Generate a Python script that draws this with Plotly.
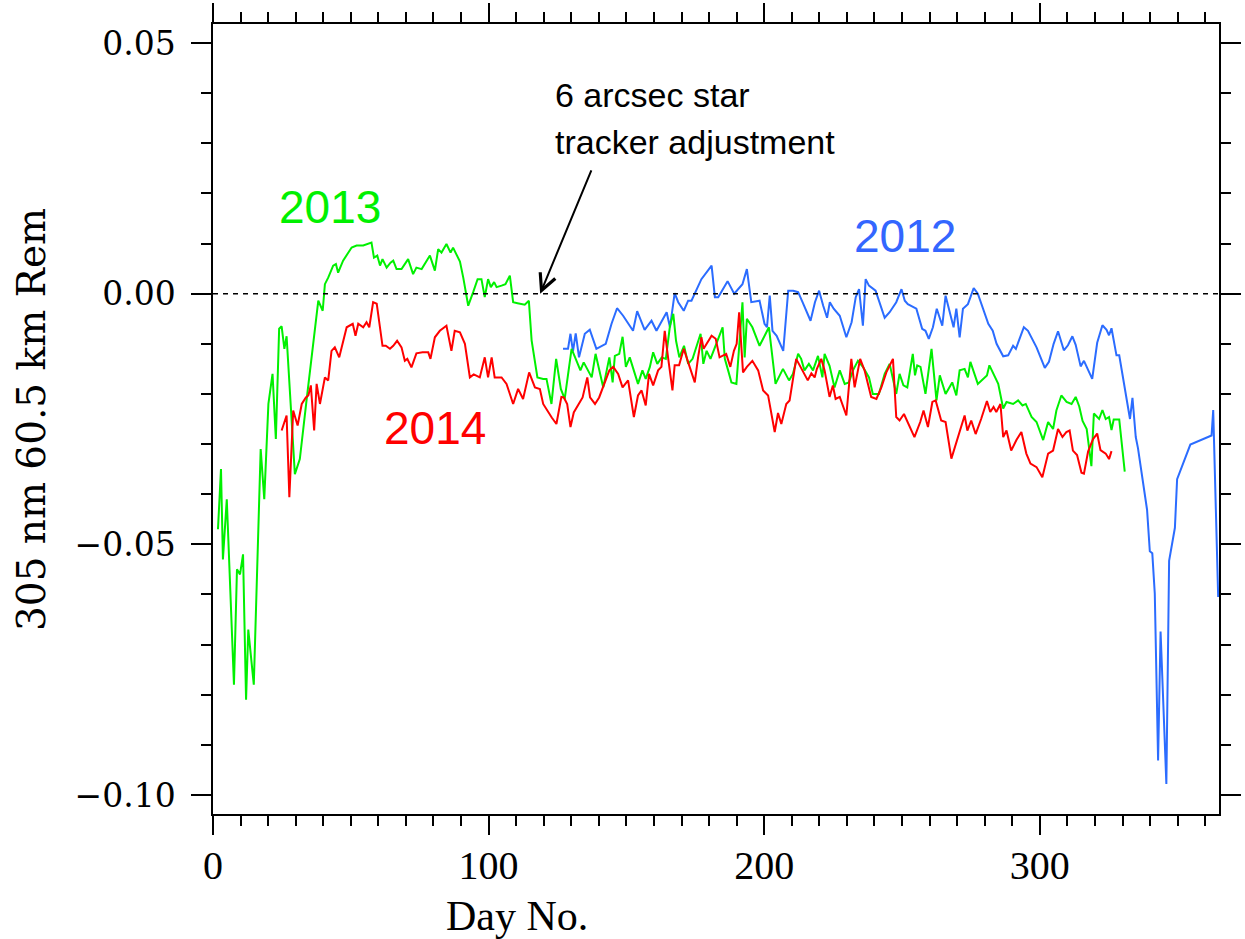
import plotly.graph_objects as go

# 305 nm radiance residuals at 60.5 km, by day of year
day_2012 = [127.0, 128.8, 129.7, 130.6, 131.6, 132.8, 134.9, 136.7, 139.1, 142.5, 144.6, 146.6,
            148.8, 152.4, 153.9, 156.6, 159.1, 160.9, 164.6, 165.8, 167.5, 168.8, 170.8, 172.4,
            173.6, 177.2, 180.9, 182.1, 183.3, 186.7, 189.1, 192.1, 193.7, 195.3, 198.3, 200.1,
            201.0, 202.0, 203.0, 204.5, 206.9, 208.7, 210.5, 212.3, 213.9, 216.8, 218.4, 219.9,
            221.4, 222.8, 223.8, 225.2, 227.4, 229.8, 231.7, 233.2, 234.4, 235.8, 236.8, 238.0,
            240.4, 241.6, 243.7, 245.5, 247.9, 249.8, 251.0, 252.1, 255.2, 257.3, 258.5, 259.7,
            261.2, 262.6, 264.6, 265.8, 267.3, 268.7, 269.7, 270.9, 272.1, 273.9, 276.0, 277.5,
            281.3, 282.9, 284.3, 286.7, 288.5, 290.3, 291.3, 294.2, 295.7, 298.8, 301.8, 303.3,
            305.0, 306.6, 308.7, 310.2, 311.8, 313.0, 314.8, 316.0, 317.5, 319.0, 320.8, 322.7,
            324.2, 325.1, 326.0, 327.8, 328.8, 332.7, 333.6, 334.8, 335.6, 338.9, 339.9, 340.8,
            341.7, 342.9, 343.8, 345.9, 346.9, 349.0, 349.8, 354.6, 362.3, 362.9, 364.7]
rem_2012 = [-0.0110, -0.0110, -0.0080, -0.0115, -0.0079, -0.0127, -0.0080, -0.0072, -0.0110,
            -0.0100, -0.0060, -0.0029, -0.0044, -0.0074, -0.0035, -0.0072, -0.0054, -0.0074,
            -0.0037, -0.0067, 0.0001, -0.0017, -0.0034, -0.0014, -0.0014, 0.0029, 0.0056,
            -0.0007, -0.0007, 0.0025, 0.0000, 0.0019, 0.0049, -0.0017, -0.0014, -0.0060,
            -0.0067, -0.0004, -0.0074, -0.0084, -0.0114, 0.0006, 0.0006, 0.0003, -0.0017,
            -0.0054, -0.0017, 0.0006, -0.0024, -0.0048, -0.0017, -0.0030, -0.0044, -0.0087,
            -0.0057, -0.0007, 0.0009, -0.0064, 0.0029, 0.0016, 0.0006, -0.0014, -0.0048,
            -0.0037, -0.0017, 0.0009, -0.0014, -0.0021, -0.0030, -0.0070, -0.0074, -0.0090,
            -0.0067, -0.0030, -0.0064, -0.0004, -0.0034, -0.0067, -0.0030, -0.0087, -0.0030,
            -0.0021, 0.0011, 0.0000, -0.0060, -0.0074, -0.0100, -0.0125, -0.0123, -0.0104,
            -0.0110, -0.0067, -0.0074, -0.0107, -0.0148, -0.0136, -0.0100, -0.0075, -0.0113,
            -0.0103, -0.0085, -0.0102, -0.0145, -0.0134, -0.0152, -0.0170, -0.0098, -0.0063,
            -0.0072, -0.0083, -0.0069, -0.0123, -0.0123, -0.0250, -0.0208, -0.0286, -0.0308,
            -0.0431, -0.0514, -0.0518, -0.0598, -0.0931, -0.0674, -0.0978, -0.0533, -0.0467,
            -0.0370, -0.0301, -0.0283, -0.0232, -0.0605]

day_2013 = [1.8, 2.9, 3.6, 5.0, 7.6, 8.7, 9.8, 10.9, 12.0, 12.8, 14.8, 17.3, 18.6, 20.1, 21.6,
            22.8, 24.0, 24.9, 25.9, 26.7, 29.7, 31.5, 34.0, 36.2, 38.2, 39.8, 40.6, 41.8, 43.6,
            44.6, 45.4, 47.2, 50.3, 52.1, 54.5, 57.5, 58.4, 59.6, 60.6, 61.5, 63.0, 64.4, 65.4,
            66.6, 68.4, 70.8, 72.6, 73.8, 75.7, 78.7, 80.5, 81.7, 82.9, 84.7, 86.2, 87.1, 89.6,
            90.8, 92.6, 94.4, 96.0, 97.4, 98.6, 99.8, 100.8, 102.0, 102.9, 104.7, 106.1, 107.7,
            108.9, 110.5, 113.1, 114.6, 115.6, 117.7, 119.8, 121.0, 122.8, 124.5, 126.2, 127.6,
            130.1, 131.6, 133.3, 134.5, 137.4, 138.8, 140.1, 141.6, 143.8, 145.0, 145.8, 147.4,
            148.6, 149.8, 151.2, 152.7, 154.2, 155.8, 157.0, 158.5, 159.7, 161.2, 162.8, 164.3,
            165.8, 167.0, 168.0, 169.2, 170.9, 172.4, 174.0, 176.9, 177.9, 179.1, 180.5, 184.9,
            185.7, 186.9, 188.1, 189.9, 192.1, 192.9, 193.7, 195.7, 198.3, 201.7, 204.1, 206.8,
            209.0, 210.4, 212.3, 213.4, 214.6, 216.2, 217.7, 219.5, 221.1, 221.9, 223.7, 225.5,
            227.4, 229.2, 230.7, 232.2, 234.0, 235.8, 238.0, 239.4, 241.6, 243.7, 245.5, 247.9,
            249.1, 250.5, 251.9, 253.9, 254.7, 255.5, 256.7, 258.5, 260.7, 262.5, 263.7, 265.8,
            268.2, 269.7, 270.9, 272.7, 273.9, 274.8, 277.5, 280.8, 281.7, 284.9, 286.7, 287.9,
            290.3, 292.1, 293.7, 294.9, 297.0, 298.8, 301.2, 303.0, 304.8, 306.0, 307.8, 309.7,
            311.5, 313.0, 314.3, 315.5, 317.0, 318.7, 319.6, 321.5, 322.7, 323.9, 325.1, 326.0,
            326.8, 328.8, 330.8]
rem_2013 = [-0.0470, -0.0350, -0.0530, -0.0410, -0.0780, -0.0550, -0.0560, -0.0520, -0.0810,
            -0.0670, -0.0780, -0.0310, -0.0410, -0.0220, -0.0160, -0.0290, -0.0070, -0.0065,
            -0.0110, -0.0085, -0.0360, -0.0330, -0.0210, -0.0110, -0.0014, -0.0034, 0.0019,
            0.0032, 0.0056, 0.0059, 0.0042, 0.0066, 0.0092, 0.0096, 0.0096, 0.0102, 0.0072,
            0.0076, 0.0056, 0.0069, 0.0052, 0.0062, 0.0066, 0.0049, 0.0049, 0.0069, 0.0039,
            0.0052, 0.0049, 0.0076, 0.0046, 0.0089, 0.0082, 0.0099, 0.0082, 0.0092, 0.0064,
            0.0032, -0.0024, 0.0003, 0.0029, 0.0029, -0.0007, 0.0029, 0.0013, 0.0023, 0.0013,
            0.0016, 0.0019, 0.0036, -0.0017, -0.0019, -0.0022, -0.0014, -0.0093, -0.0167,
            -0.0170, -0.0170, -0.0220, -0.0130, -0.0190, -0.0210, -0.0110, -0.0130, -0.0153,
            -0.0137, -0.0167, -0.0120, -0.0153, -0.0187, -0.0127, -0.0177, -0.0124, -0.0120,
            -0.0086, -0.0146, -0.0127, -0.0153, -0.0180, -0.0153, -0.0170, -0.0146, -0.0117,
            -0.0140, -0.0127, -0.0130, -0.0064, -0.0040, -0.0094, -0.0127, -0.0104, -0.0140,
            -0.0130, -0.0080, -0.0140, -0.0114, -0.0130, -0.0067, -0.0130, -0.0153, -0.0177,
            -0.0180, -0.0017, -0.0127, -0.0050, -0.0067, -0.0104, -0.0067, -0.0180, -0.0150,
            -0.0173, -0.0160, -0.0120, -0.0130, -0.0153, -0.0140, -0.0153, -0.0124, -0.0167,
            -0.0120, -0.0144, -0.0187, -0.0153, -0.0180, -0.0177, -0.0153, -0.0134, -0.0146,
            -0.0167, -0.0200, -0.0200, -0.0160, -0.0140, -0.0200, -0.0160, -0.0183, -0.0187,
            -0.0120, -0.0163, -0.0143, -0.0146, -0.0200, -0.0110, -0.0213, -0.0163, -0.0200,
            -0.0177, -0.0203, -0.0153, -0.0150, -0.0167, -0.0136, -0.0180, -0.0163, -0.0143,
            -0.0180, -0.0229, -0.0216, -0.0220, -0.0213, -0.0223, -0.0220, -0.0246, -0.0256,
            -0.0292, -0.0256, -0.0270, -0.0233, -0.0203, -0.0216, -0.0220, -0.0206, -0.0225,
            -0.0254, -0.0270, -0.0344, -0.0239, -0.0250, -0.0232, -0.0250, -0.0246, -0.0272,
            -0.0251, -0.0251, -0.0355]

day_2014 = [24.9, 26.7, 27.7, 29.1, 30.7, 32.2, 33.7, 34.6, 35.5, 36.7, 37.6, 38.8, 40.6, 41.8,
            43.0, 44.2, 45.8, 48.5, 50.7, 51.7, 52.7, 54.5, 55.7, 56.7, 58.1, 59.4, 61.5, 62.7,
            64.2, 65.4, 66.8, 68.4, 69.6, 70.5, 72.0, 73.8, 76.0, 78.1, 78.9, 80.5, 82.3, 84.7,
            86.5, 87.7, 89.6, 91.4, 93.2, 94.6, 96.8, 98.6, 99.8, 101.1, 102.2, 104.7, 106.5,
            108.9, 110.7, 112.5, 114.7, 116.8, 118.6, 119.8, 122.9, 124.6, 126.4, 127.3, 128.5,
            129.7, 130.9, 132.5, 134.1, 135.8, 136.8, 138.6, 140.1, 143.8, 145.2, 147.0, 148.6,
            150.6, 151.8, 152.7, 154.2, 155.5, 157.0, 158.2, 159.7, 161.5, 162.7, 163.9, 165.1,
            166.7, 167.5, 169.1, 170.8, 173.3, 174.8, 176.0, 177.2, 178.0, 180.9, 182.4, 183.8,
            186.2, 187.7, 189.0, 190.0, 190.9, 192.3, 193.7, 195.7, 197.8, 199.6, 201.4, 203.8,
            205.0, 206.2, 208.0, 209.2, 211.6, 213.1, 215.8, 217.1, 218.3, 219.1, 220.7, 221.9,
            223.7, 224.9, 225.9, 227.4, 229.8, 231.6, 232.8, 234.8, 236.4, 238.8, 240.7, 242.5,
            244.3, 246.7, 247.9, 249.1, 250.7, 254.5, 256.6, 257.8, 259.4, 261.0, 262.2, 264.2,
            265.8, 267.9, 270.3, 272.7, 273.7, 275.1, 276.7, 278.7, 280.8, 282.0, 283.2, 284.2,
            285.7, 286.7, 287.9, 289.6, 291.5, 293.3, 295.1, 296.6, 298.8, 300.9, 303.0, 304.8,
            306.6, 308.2, 309.6, 310.8, 312.0, 313.5, 315.1, 316.0, 317.5, 319.3, 320.8, 322.0,
            323.9, 325.1, 326.0]
rem_2014 = [-0.0273, -0.0243, -0.0406, -0.0233, -0.0263, -0.0220, -0.0207, -0.0203, -0.0183,
            -0.0273, -0.0180, -0.0220, -0.0167, -0.0173, -0.0114, -0.0107, -0.0127, -0.0067,
            -0.0060, -0.0084, -0.0060, -0.0067, -0.0057, -0.0067, -0.0017, -0.0020, -0.0104,
            -0.0104, -0.0110, -0.0104, -0.0094, -0.0107, -0.0134, -0.0130, -0.0147, -0.0119,
            -0.0117, -0.0117, -0.0130, -0.0087, -0.0074, -0.0064, -0.0114, -0.0074, -0.0077,
            -0.0100, -0.0167, -0.0161, -0.0167, -0.0127, -0.0167, -0.0127, -0.0167, -0.0167,
            -0.0180, -0.0220, -0.0190, -0.0210, -0.0157, -0.0187, -0.0190, -0.0220, -0.0247,
            -0.0260, -0.0206, -0.0207, -0.0220, -0.0266, -0.0237, -0.0223, -0.0207, -0.0167,
            -0.0207, -0.0220, -0.0207, -0.0153, -0.0146, -0.0160, -0.0187, -0.0173, -0.0220,
            -0.0246, -0.0203, -0.0193, -0.0223, -0.0160, -0.0183, -0.0153, -0.0146, -0.0074,
            -0.0127, -0.0193, -0.0143, -0.0143, -0.0110, -0.0153, -0.0177, -0.0127, -0.0087,
            -0.0110, -0.0084, -0.0090, -0.0127, -0.0120, -0.0146, -0.0114, -0.0100, -0.0037,
            -0.0157, -0.0146, -0.0134, -0.0153, -0.0193, -0.0203, -0.0276, -0.0238, -0.0260,
            -0.0220, -0.0213, -0.0130, -0.0146, -0.0173, -0.0159, -0.0167, -0.0150, -0.0130,
            -0.0153, -0.0206, -0.0183, -0.0210, -0.0206, -0.0243, -0.0130, -0.0187, -0.0130,
            -0.0153, -0.0206, -0.0210, -0.0187, -0.0157, -0.0130, -0.0246, -0.0253, -0.0240,
            -0.0286, -0.0256, -0.0233, -0.0266, -0.0216, -0.0213, -0.0253, -0.0256, -0.0329,
            -0.0286, -0.0243, -0.0273, -0.0253, -0.0280, -0.0250, -0.0214, -0.0236, -0.0226,
            -0.0236, -0.0220, -0.0286, -0.0273, -0.0313, -0.0292, -0.0276, -0.0319, -0.0339,
            -0.0346, -0.0366, -0.0319, -0.0313, -0.0270, -0.0286, -0.0276, -0.0273, -0.0313,
            -0.0322, -0.0357, -0.0359, -0.0315, -0.0290, -0.0279, -0.0312, -0.0319, -0.0330,
            -0.0314]

x_ticks = [0, 100, 200, 300]
y_ticks = [-0.10, -0.05, 0.00, 0.05]
y_tick_text = ["\u22120.10", "\u22120.05", "0.00", "0.05"]

BLUE = "#2b6cff"
GREEN = "#00f000"
RED = "#ff0000"

# plot-area geometry in pixels (used for paper-anchored text)
L, R, T, B = 213, 26, 24, 125
W, H = 1245, 939
PW, PH = W - L - R, H - T - B

def px_to_paper(px, py):
    return (px - L) / PW, (H - B - py) / PH

fig = go.Figure()
for d, r, c in [(day_2012, rem_2012, BLUE), (day_2013, rem_2013, GREEN), (day_2014, rem_2014, RED)]:
    fig.add_trace(go.Scatter(x=d, y=r, mode="lines", line=dict(color=c, width=2),
                             showlegend=False, hoverinfo="skip"))

# reference line at zero
fig.add_shape(type="line", x0=0, x1=365, y0=0, y1=0, xref="x", yref="y",
              line=dict(color="black", width=1.5, dash="5px,5px"))

# year labels
for txt, xd, yd, col in [("2013", 42.4, 0.0172, GREEN), ("2014", 80.5, -0.0268, RED),
                         ("2012", 250.9, 0.0115, "#3366ff")]:
    fig.add_annotation(x=xd, y=yd, xref="x", yref="y", text=txt, showarrow=False,
                       font=dict(family="Liberation Sans", size=46, color=col),
                       xanchor="center", yanchor="middle")

# star tracker note and arrow
fig.add_annotation(x=118.7, y=0.0, xref="x", yref="y", ax=137.5, ay=0.0249,
                   axref="x", ayref="y", text="", showarrow=True, arrowhead=5,
                   arrowsize=1.6, arrowwidth=2, arrowcolor="black")
for line_txt, py in [("6 arcsec star", 95), ("tracker adjustment", 142)]:
    xp, yp = px_to_paper(553, py)
    fig.add_annotation(x=xp, y=yp, xref="paper", yref="paper",
                       text=line_txt, showarrow=False, xanchor="left", yanchor="middle",
                       font=dict(family="Liberation Sans", size=34, color="black"))

# axis titles
xp, yp = px_to_paper(517, 916)
fig.add_annotation(x=xp, y=yp, xref="paper", yref="paper",
                   text="Day No.", showarrow=False, xanchor="center", yanchor="middle",
                   font=dict(family="Liberation Serif", size=42, color="black"))
xp, yp = px_to_paper(31, 420)
fig.add_annotation(x=xp, y=yp, xref="paper", yref="paper",
                   text="305 nm 60.5 km Rem", showarrow=False, textangle=-90,
                   xanchor="center", yanchor="middle",
                   font=dict(family="DejaVu Serif", size=39, color="black"))

fig.update_xaxes(range=[0, 365], tickvals=x_ticks, ticks="outside", ticklen=19, tickwidth=1.5,
                 tickcolor="black", showline=True, linecolor="black", linewidth=1.5,
                 mirror="allticks", showgrid=False, zeroline=False, automargin=False,
                 tickfont=dict(family="Liberation Serif", size=40, color="black"),
                 ticklabelstandoff=-4,
                 minor=dict(dtick=10, tick0=0, ticks="outside", ticklen=10, tickwidth=1.5,
                            tickcolor="black", showgrid=False))
fig.update_yaxes(range=[-0.1038, 0.0538], tickvals=y_ticks, ticktext=y_tick_text,
                 ticks="outside", ticklen=20, tickwidth=1.5, tickcolor="black",
                 showline=True, linecolor="black", linewidth=1.5, mirror="allticks",
                 showgrid=False, zeroline=False, automargin=False,
                 tickfont=dict(family="DejaVu Serif", size=33, color="black"),
                 ticklabelstandoff=9,
                 minor=dict(dtick=0.01, tick0=0, ticks="outside", ticklen=10, tickwidth=1.5,
                            tickcolor="black", showgrid=False))

fig.update_layout(width=W, height=H, margin=dict(l=L, r=R, t=T, b=B),
                  paper_bgcolor="white", plot_bgcolor="white")

fig.write_html("out.html")
